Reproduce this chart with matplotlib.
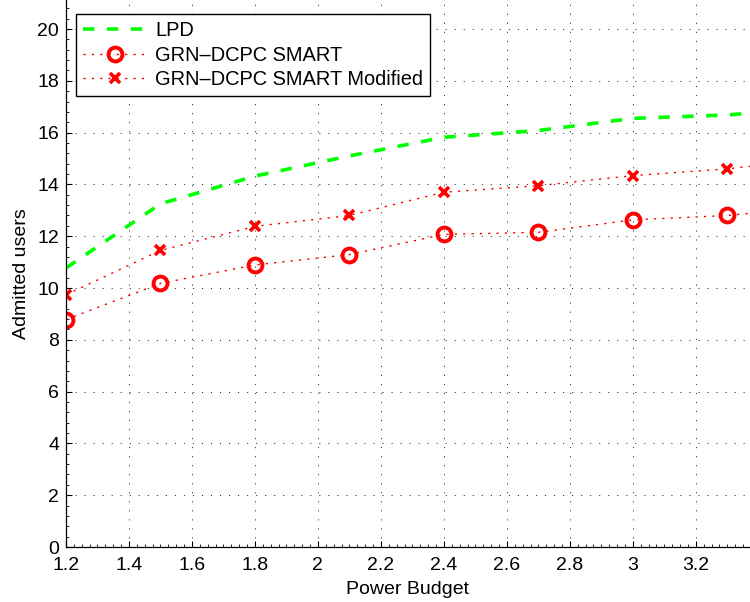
import matplotlib
matplotlib.use("Agg")
import matplotlib.pyplot as plt
from matplotlib.ticker import AutoMinorLocator

# Power budget values and admitted users for each scheme
power_budget = [1.2, 1.5, 1.8, 2.1, 2.4, 2.7, 3.0, 3.3, 3.6]
lpd = [10.77, 13.25, 14.32, 15.10, 15.82, 16.08, 16.55, 16.68, 16.98]
grn_smart = [8.78, 10.18, 10.89, 11.29, 12.07, 12.15, 12.63, 12.80, 13.15]
grn_smart_mod = [9.74, 11.45, 12.38, 12.80, 13.70, 13.95, 14.34, 14.60, 15.00]

x_ticks = [1.2, 1.4, 1.6, 1.8, 2.0, 2.2, 2.4, 2.6, 2.8, 3.0, 3.2]
x_tick_labels = ["1.2", "1.4", "1.6", "1.8", "2", "2.2", "2.4", "2.6", "2.8", "3", "3.2"]
y_ticks = [0, 2, 4, 6, 8, 10, 12, 14, 16, 18, 20]

plt.rcParams["font.family"] = ["Liberation Sans", "DejaVu Sans"]
plt.rcParams["lines.scale_dashes"] = False

fig = plt.figure(figsize=(7.5, 6.02), dpi=100)
ax = fig.add_axes([66 / 750, 55 / 602, 1 - 66 / 750, 547 / 602])

ax.plot(power_budget, lpd, color="#00ff00", lw=2.6,
        linestyle=(0, (8.2, 9.0)), label="LPD")
ax.plot(power_budget, grn_smart, color="#ff0000", lw=1.0,
        linestyle=(0, (1.6, 4.4)), marker="o", ms=10, mew=2.8,
        mfc="none", mec="#ff0000", label="GRN\u2013DCPC SMART")
ax.plot(power_budget, grn_smart_mod, color="#ff0000", lw=1.0,
        linestyle=(0, (1.6, 4.4)), marker="x", ms=7, mew=2.6,
        mec="#ff0000", label="GRN\u2013DCPC SMART Modified")

ax.set_xlim(1.2, 3.372)
ax.set_ylim(0, 21.12)
ax.set_xticks(x_ticks)
ax.set_xticklabels(x_tick_labels)
ax.set_yticks(y_ticks)
ax.xaxis.set_minor_locator(AutoMinorLocator(8))
ax.yaxis.set_minor_locator(AutoMinorLocator(5))

ax.tick_params(which="both", direction="in", labelsize=14, colors="black")
ax.tick_params(which="major", length=4, width=0.8)
ax.tick_params(which="minor", length=2, width=0.6)
ax.tick_params(axis="x", pad=7)
ax.tick_params(axis="y", pad=5)

ax.grid(True, which="major", color="#333333", lw=0.7,
        linestyle=(0, (0.8, 5.7)))
ax.set_axisbelow(True)

for side in ("top", "right"):
    ax.spines[side].set_visible(False)
for side in ("left", "bottom"):
    ax.spines[side].set_linewidth(0.9)

ax.set_xlabel("Power Budget", fontsize=14, labelpad=5)
ax.set_ylabel("Admitted users", fontsize=14, labelpad=5)

leg = ax.legend(loc="upper left", bbox_to_anchor=(0.0146, 0.974),
                fontsize=14.4, handlelength=3.2, handletextpad=0.4,
                borderpad=0.35, labelspacing=0.28, fancybox=False,
                framealpha=1, edgecolor="black", borderaxespad=0)
leg.get_frame().set_linewidth(1.0)

fig.savefig("out.png", dpi=100)
